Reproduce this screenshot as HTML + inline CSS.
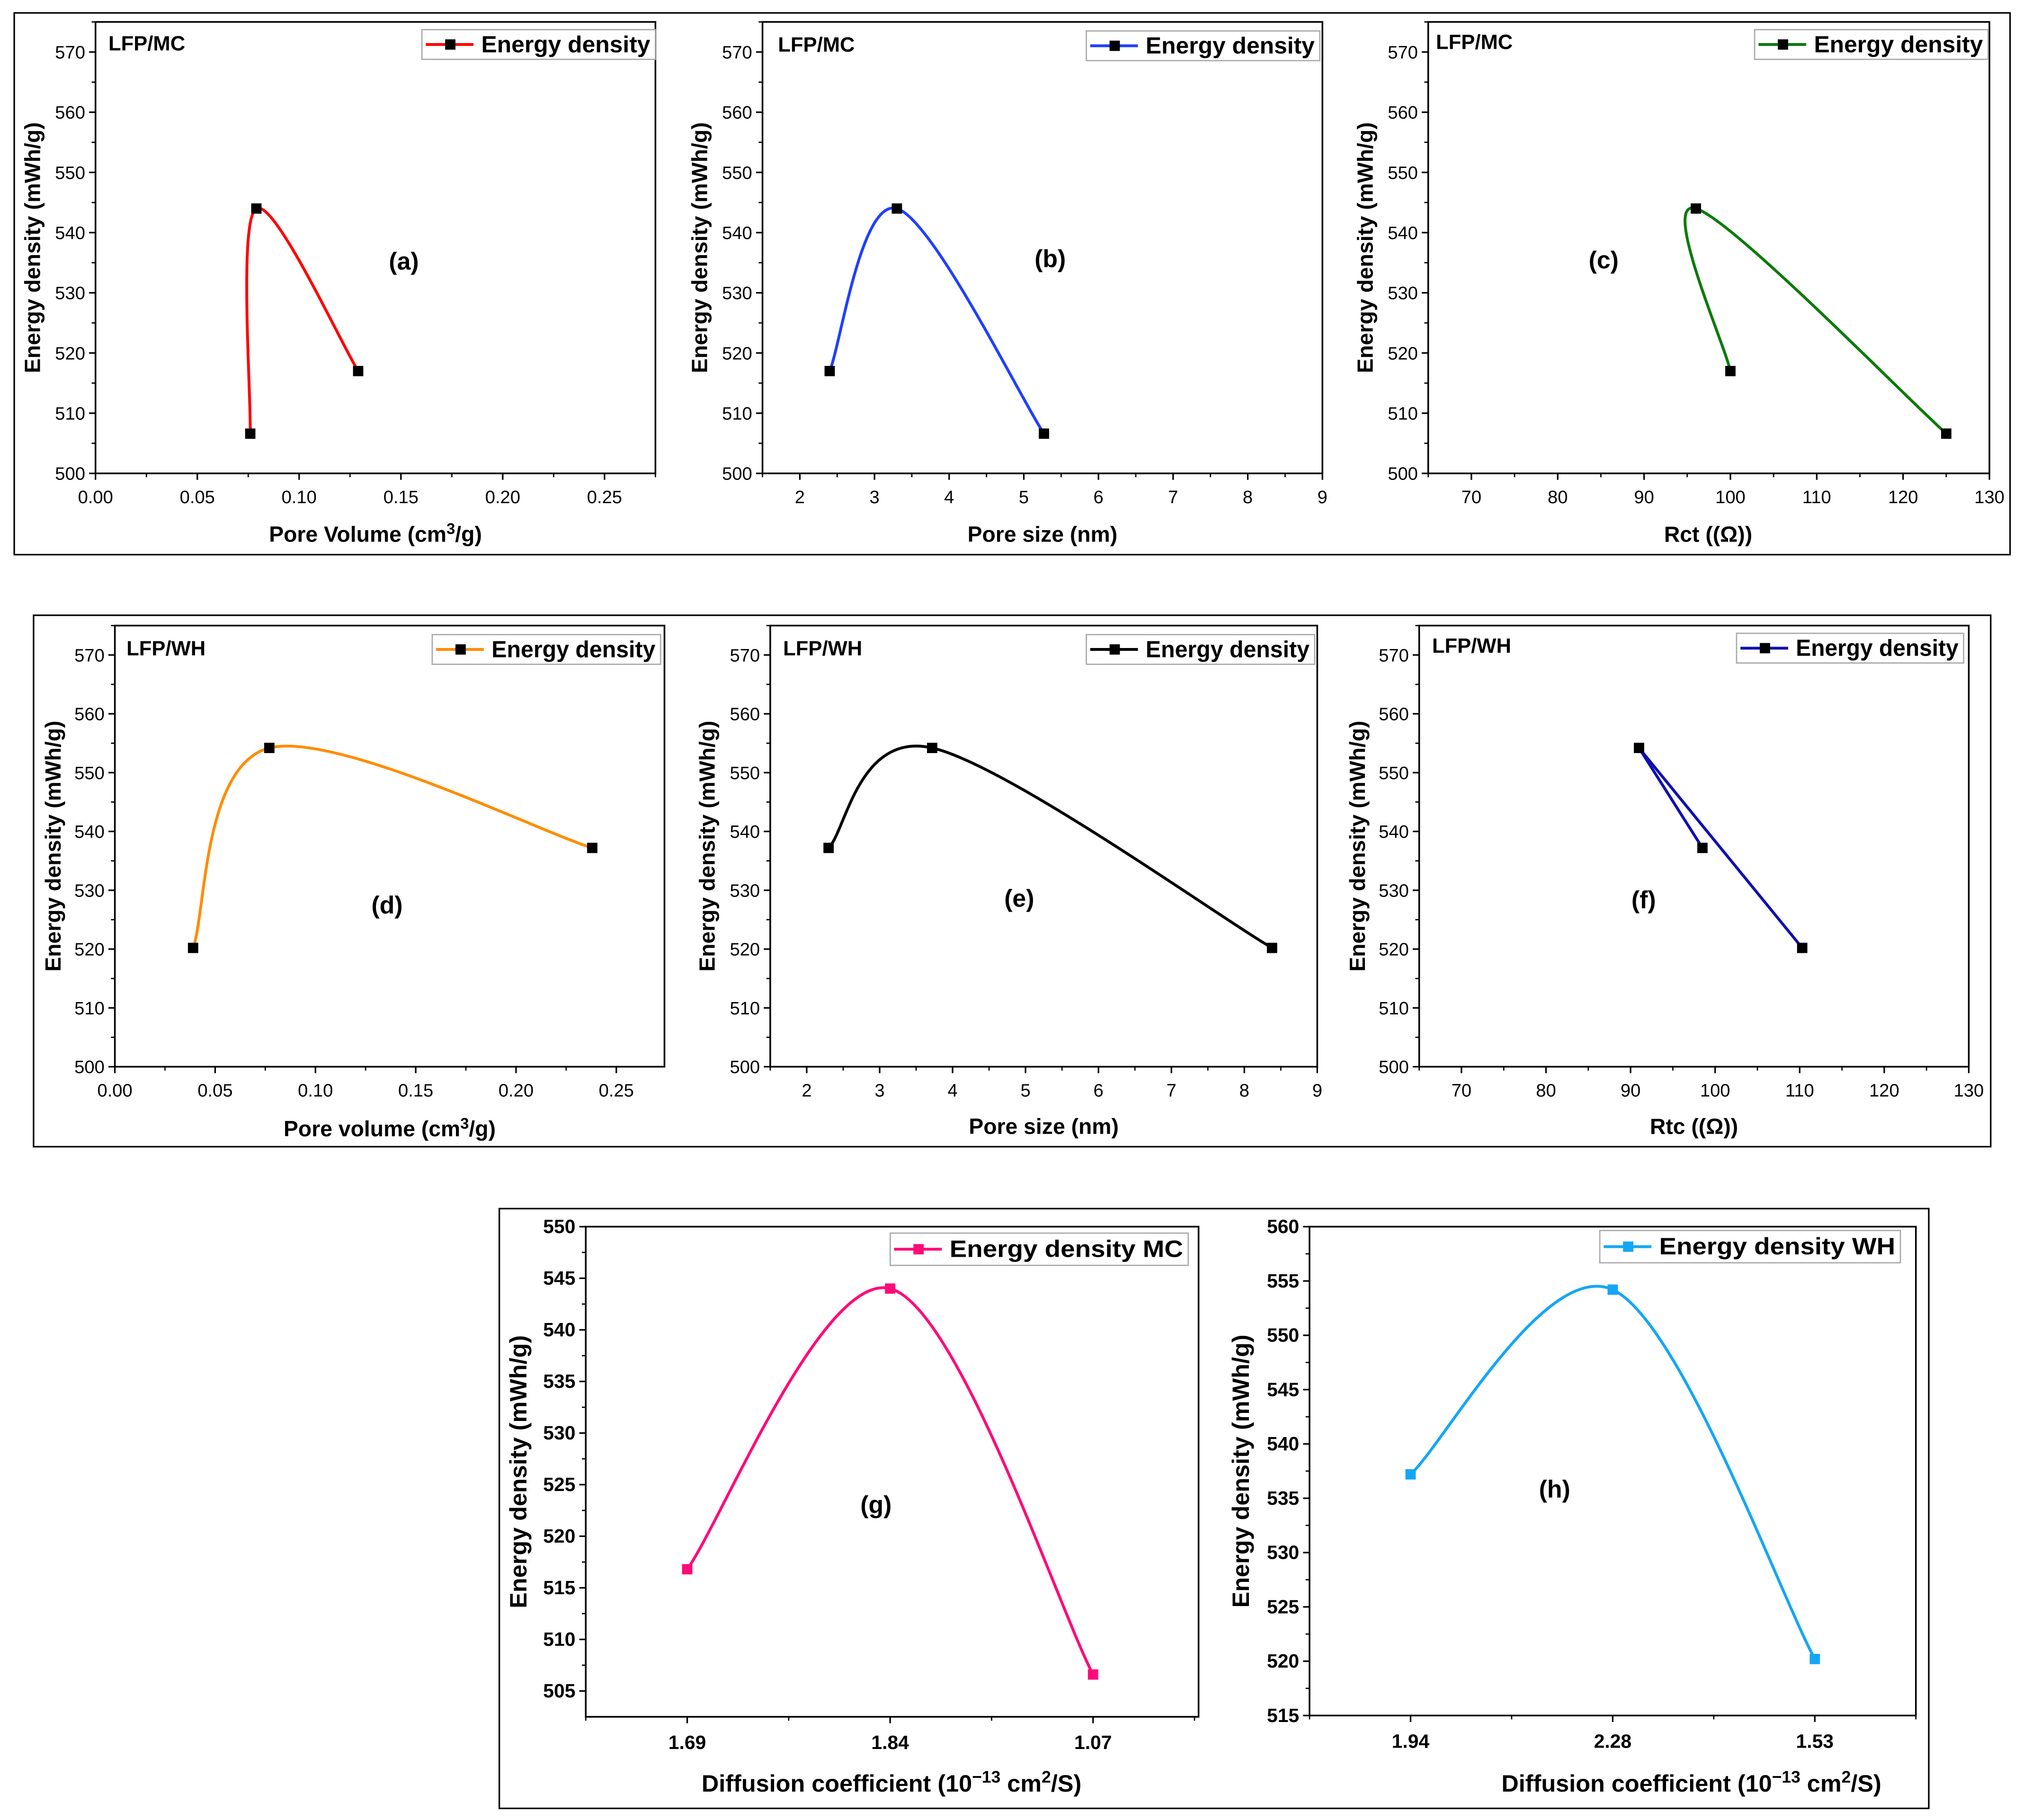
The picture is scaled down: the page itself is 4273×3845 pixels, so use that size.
<!DOCTYPE html>
<html><head><meta charset="utf-8"><style>
html,body{margin:0;padding:0;background:#fff;}
svg{display:block;font-family:"Liberation Sans",Arial,sans-serif;}
</style></head><body>
<svg id="fig" width="4273" height="3845" viewBox="0 0 1568 1411" xmlns="http://www.w3.org/2000/svg">
<rect x="0" y="0" width="1568" height="1411" fill="#fff"/>
<rect x="11" y="10" width="1547" height="420" fill="none" stroke="#000" stroke-width="1.2"/>
<rect x="26" y="477" width="1517" height="412" fill="none" stroke="#000" stroke-width="1.2"/>
<rect x="387" y="937" width="1108" height="465" fill="none" stroke="#000" stroke-width="1.2"/>
</svg>
<script>
// ---- data ----
const aX = [0.076, 0.079, 0.129];
const aY = [506.6, 544, 517];
const bX = [2.4, 3.3, 5.27];
const bY = [517, 544, 506.6];
const cX = [100, 96, 125];
const cY = [517, 544, 506.6];
const dX = [0.039, 0.077, 0.238];
const dY = [520.2, 554.2, 537.2];
const eX = [2.3, 3.72, 8.38];
const eY = [537.2, 554.2, 520.2];
const fX = [98.5, 91, 110.3];
const fY = [537.2, 554.2, 520.2];
const gCats = ["1.69", "1.84", "1.07"];
const gY = [516.8, 544, 506.6];
const hCats = ["1.94", "2.28", "1.53"];
const hY = [537.2, 554.2, 520.2];
const poreVolTicks = ["0.00","0.05","0.10","0.15","0.20","0.25"];
const poreSizeTicks = ["2","3","4","5","6","7","8","9"];
const rctTicks = ["70","80","90","100","110","120","130"];
const yTicks570 = ["500","510","520","530","540","550","560","570"];
const yTicksG = ["505","510","515","520","525","530","535","540","545","550"];
const yTicksH = ["515","520","525","530","535","540","545","550","555","560"];

const NS = "http://www.w3.org/2000/svg";
const svg = document.getElementById("fig");
function mk(tag, attrs, parent, text) {
  const el = document.createElementNS(NS, tag);
  for (const k in attrs) el.setAttribute(k, attrs[k]);
  if (text !== undefined) el.textContent = text;
  (parent || svg).appendChild(el);
  return el;
}

function panel(p) {
  const g = mk("g", {});
  
  
  const L = p.L, R = p.R, T = p.T, B = p.B;
  const sx = v => L + (v - p.xmin) / (p.xmax - p.xmin) * (R - L);
  const sy = v => B - (v - p.ymin) / (p.ymax - p.ymin) * (B - T);
  const fr = mk("rect", {x: L, y: T, width: R - L, height: B - T, fill: "none", stroke: "#000", "stroke-width": 1.3}, g);
  
  
  p.yTicks.forEach((t, i) => {
    const v = parseFloat(t), y = sy(v);
    mk("line", {x1: L - 5, x2: L, y1: y, y2: y, stroke: "#000", "stroke-width": 1.2}, g);
    const tx = mk("text", {x: L - 8, y: y + 5, "text-anchor": "end", "font-size": p.tfs, "font-weight": p.tfw}, g, t);
    
    
    const m = sy(v + p.yStep / 2);
    if (m >= T - 0.5) mk("line", {x1: L - 3, x2: L, y1: m, y2: m, stroke: "#000", "stroke-width": 1}, g);
  });
  if (p.cats) {
    p.cats.forEach((c, i) => {
      const x = sx(i);
      mk("line", {x1: x, x2: x, y1: B, y2: B + 5, stroke: "#000", "stroke-width": 1.2}, g);
      const tx = mk("text", {x: x, y: B + 25, "text-anchor": "middle", "font-size": p.tfs, "font-weight": p.tfw}, g, c);
      
      
    });
    for (let i = -0.5; i <= p.cats.length - 0.5; i += 1) {
      const x = sx(i);
      mk("line", {x1: x, x2: x, y1: B, y2: B + 3, stroke: "#000", "stroke-width": 1}, g);
    }
  } else {
    p.xTicks.forEach((t, i) => {
      const v = parseFloat(t), x = sx(v);
      mk("line", {x1: x, x2: x, y1: B, y2: B + 5, stroke: "#000", "stroke-width": 1.2}, g);
      const tx = mk("text", {x: x, y: B + 23, "text-anchor": "middle", "font-size": p.tfs, "font-weight": p.tfw}, g, t);
      
      
      const m = sx(v + p.xStep / 2);
      if (m <= R + 0.5) mk("line", {x1: m, x2: m, y1: B, y2: B + 3, stroke: "#000", "stroke-width": 1}, g);
      const m2 = sx(v - p.xStep / 2);
      if (i === 0 && m2 >= L - 0.5) mk("line", {x1: m2, x2: m2, y1: B, y2: B + 3, stroke: "#000", "stroke-width": 1}, g);
    });
  }
  const xt = mk("text", {x: p.xtX, y: p.xtY, "text-anchor": "middle", "font-size": p.afs, "font-weight": "bold"}, g);
  
  
  xt.innerHTML = p.xTitle;
  const yc = (T + B) / 2;
  const yt = mk("text", {x: p.ytX, y: yc, "text-anchor": "middle", "font-size": p.afs, "font-weight": "bold", transform: "rotate(-90 " + p.ytX + " " + yc + ")"}, g, "Energy density (mWh/g)");
  
  
  const xs = p.cats ? p.ys.map((_, i) => i) : p.xs;
  const pts = xs.map((x, i) => [sx(x), sy(p.ys[i])]);
  let d = "M" + pts[0][0] + "," + pts[0][1];
  for (let i = 0; i < pts.length - 1; i++) {
    if (!p.smooth) { d += " L" + pts[i + 1][0] + "," + pts[i + 1][1]; continue; }
    const p0 = pts[i - 1] || pts[i], p1 = pts[i], p2 = pts[i + 1], p3 = pts[i + 2] || pts[i + 1];
    const c1 = [p1[0] + (p2[0] - p0[0]) / 6, p1[1] + (p2[1] - p0[1]) / 6];
    const c2 = [p2[0] - (p3[0] - p1[0]) / 6, p2[1] - (p3[1] - p1[1]) / 6];
    d += " C" + c1[0] + "," + c1[1] + " " + c2[0] + "," + c2[1] + " " + p2[0] + "," + p2[1];
  }
  const line = mk("path", {d: d, fill: "none", stroke: p.color, "stroke-width": 2.2}, g);
  
  
  pts.forEach(pt => {
    const m = mk("rect", {x: pt[0] - 4, y: pt[1] - 4, width: 8, height: 8, fill: p.mcolor}, g);
    
    
  });
  const lg = mk("g", {}, g);
  
  
  mk("rect", {x: p.lg[0], y: p.lg[1], width: p.lg[2], height: p.lg[3], fill: "#fff", stroke: "#aaa", "stroke-width": 1}, lg);
  const ly = p.lg[1] + p.lg[3] / 2;
  mk("line", {x1: p.lg[0] + 3, x2: p.lg[0] + 40, y1: ly, y2: ly, stroke: p.color, "stroke-width": 2.2}, lg);
  mk("rect", {x: p.lg[0] + 18, y: ly - 4, width: 8, height: 8, fill: p.mcolor}, lg);
  const lt = mk("text", {x: p.lg[0] + 46, y: ly + 6, "font-size": p.lfs, "font-weight": "bold", textLength: p.lg[2] - 50, lengthAdjust: "spacingAndGlyphs"}, lg, p.legend);
  
  
  if (p.tag) {
    const tg = mk("text", {x: p.tag[0], y: p.tag[1], "font-size": 16, "font-weight": "bold"}, g, p.tag[2]);
    
    
  }
  const pl = mk("text", {x: p.lab[0], y: p.lab[1] + 7, "text-anchor": "middle", "font-size": 19, "font-weight": "bold"}, g, p.lab[2]);
  
  
}

const common = {ymin: 500, ymax: 575, yStep: 10, yTicks: yTicks570, tfs: 14, tfw: "normal", afs: 17, lfs: 18, smooth: true};
const pvTitle = 'Pore Volume (cm<tspan dy="-6" font-size="12">3</tspan><tspan dy="6">/g)</tspan>';
const pvTitle2 = 'Pore volume (cm<tspan dy="-6" font-size="12">3</tspan><tspan dy="6">/g)</tspan>';
const dcTitle = 'Diffusion coefficient (10<tspan dy="-7" font-size="13">−13</tspan><tspan dy="7"> cm</tspan><tspan dy="-7" font-size="13">2</tspan><tspan dy="7">/S)</tspan>';

panel(Object.assign({}, common, {name: "panel-a", L: 74, R: 508, T: 17, B: 367, xmin: 0, xmax: 0.275, xStep: 0.05, xTicks: poreVolTicks,
  xs: aX, ys: aY, color: "#ff0000", mcolor: "#000", xTitle: pvTitle, xtX: 291, xtY: 420, ytX: 31,
  lg: [327, 23, 181, 23], legend: "Energy density", tag: [84, 39, "LFP/MC"], lab: [313, 202, "(a)"]}));
panel(Object.assign({}, common, {name: "panel-b", L: 591, R: 1025, T: 17, B: 367, xmin: 1.5, xmax: 9, xStep: 1, xTicks: poreSizeTicks,
  xs: bX, ys: bY, color: "#1f3fff", mcolor: "#000", xTitle: "Pore size (nm)", xtX: 808, xtY: 420, ytX: 548,
  lg: [842, 24, 181, 23], legend: "Energy density", tag: [603, 40, "LFP/MC"], lab: [814, 200, "(b)"]}));
panel(Object.assign({}, common, {name: "panel-c", L: 1107, R: 1542, T: 17, B: 367, xmin: 65, xmax: 130, xStep: 10, xTicks: rctTicks,
  xs: cX, ys: cY, color: "#0a7a0a", mcolor: "#000", xTitle: "Rct ((Ω))", xtX: 1324, xtY: 420, ytX: 1064,
  lg: [1360, 23, 181, 23], legend: "Energy density", tag: [1113, 38, "LFP/MC"], lab: [1243, 201, "(c)"]}));

const c2 = Object.assign({}, common, {T: 485, B: 827});
panel(Object.assign({}, c2, {name: "panel-d", L: 89, R: 515, xmin: 0, xmax: 0.274, xStep: 0.05, xTicks: poreVolTicks,
  xs: dX, ys: dY, color: "#ff8c00", mcolor: "#000", xTitle: pvTitle2, xtX: 302, xtY: 881, ytX: 47,
  lg: [335, 492, 177, 23], legend: "Energy density", tag: [98, 508, "LFP/WH"], lab: [300, 701, "(d)"]}));
panel(Object.assign({}, c2, {name: "panel-e", L: 597, R: 1021, xmin: 1.5, xmax: 9, xStep: 1, xTicks: poreSizeTicks,
  xs: eX, ys: eY, color: "#000", mcolor: "#000", xTitle: "Pore size (nm)", xtX: 809, xtY: 879, ytX: 554,
  lg: [842, 492, 177, 23], legend: "Energy density", tag: [607, 508, "LFP/WH"], lab: [790, 696, "(e)"]}));
panel(Object.assign({}, c2, {name: "panel-f", L: 1100, R: 1526, xmin: 65, xmax: 130, xStep: 10, xTicks: rctTicks, smooth: false,
  xs: fX, ys: fY, color: "#1010b0", mcolor: "#000", xTitle: "Rtc ((Ω))", xtX: 1313, xtY: 879, ytX: 1058,
  lg: [1346, 491, 176, 23], legend: "Energy density", tag: [1110, 506, "LFP/WH"], lab: [1274, 697, "(f)"]}));

panel(Object.assign({}, common, {name: "panel-g", L: 454, R: 929, T: 951, B: 1331, ymin: 502.5, ymax: 550, yStep: 5, yTicks: yTicksG,
  xmin: -0.5, xmax: 2.52, cats: gCats, ys: gY, color: "#ff0a78", mcolor: "#ff0a78", tfs: 15, tfw: "bold", afs: 18.5, lfs: 18.5,
  xTitle: dcTitle, xtX: 691, xtY: 1389, ytX: 408,
  lg: [690, 956, 231, 25], legend: "Energy density MC", tag: null, lab: [679, 1166, "(g)"]}));
panel(Object.assign({}, common, {name: "panel-h", L: 1015, R: 1485, T: 951, B: 1330, ymin: 515, ymax: 560, yStep: 5, yTicks: yTicksH,
  xmin: -0.5, xmax: 2.5, cats: hCats, ys: hY, color: "#14a6f5", mcolor: "#14a6f5", tfs: 15, tfw: "bold", afs: 18.5, lfs: 18.5,
  xTitle: dcTitle, xtX: 1311, xtY: 1389, ytX: 968,
  lg: [1240, 954, 233, 25], legend: "Energy density WH", tag: null, lab: [1205, 1154, "(h)"]}));
</script>
</body></html>
